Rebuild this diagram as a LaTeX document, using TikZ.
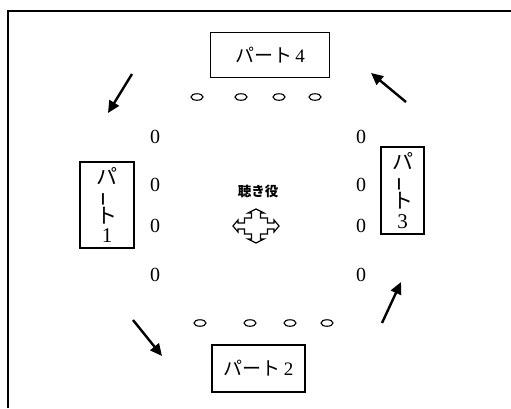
\documentclass[tikz,border=0pt]{standalone}
\usepackage{fontspec}
\setmainfont{Liberation Serif}
\newfontfamily\jp{Noto Sans CJK JP}
\usetikzlibrary{arrows.meta,shapes.geometric,calc}
\tikzset{
  partbox/.style={draw, line width=1.2pt, inner sep=0pt, font=\fontsize{19}{21}\selectfont},
  tallbox/.style={partbox, align=center, font={\fontsize{21}{19.5}\selectfont\lineskiplimit=-40pt}},
  seat/.style={draw, ellipse, line width=1.1pt, minimum width=12pt, minimum height=6.5pt, inner sep=0pt},
  zero/.style={font=\fontsize{20}{22}\selectfont, inner sep=0pt},
  turn/.style={line width=2.4pt, -{Triangle[length=12pt,width=11pt]}},
}
% long-vowel mark set upright for vertical writing
\newcommand{\vbar}{\rotatebox[origin=c]{90}{\scalebox{0.68}[1]{\jp ー}}}
\begin{document}
\begin{tikzpicture}[x=1pt, y=-1pt]
\useasboundingbox (0,0) rectangle (511,408);
% frame
\draw[line width=1.6pt] (8,408) -- (8,11) -- (511,11);

% part boxes
\node[partbox, minimum width=119pt, minimum height=45pt] (p4) at (270,55) {\jp パート\,\rmfamily 4};
\node[partbox, minimum width=93pt, minimum height=47pt] (p2) at (258.5,368.5) {\jp パート\,\rmfamily 2};
\node[tallbox, minimum width=54pt, minimum height=86pt] (p1) at (107,205)
  {\jp パ\\\vbar\\\jp ト\\\rmfamily 1};
\node[tallbox, minimum width=43pt, minimum height=87pt] (p3) at (402.5,190.5)
  {\jp パ\\\vbar\\\jp ト\\\rmfamily 3};

% seats along top and bottom
\foreach \x [count=\i] in {197,241,279,315} \node[seat] (t\i) at (\x,97) {};
\foreach \x [count=\i] in {200,250,290,327} \node[seat] (b\i) at (\x,323) {};

% seats along left and right sides
\foreach \y [count=\i] in {137,185,226,275} {
  \node[zero] (l\i) at (155,\y) {0};
  \node[zero] (r\i) at (361,\y) {0};
}

% listener in the centre
\node[font=\jp\bfseries\fontsize{13.5}{15}\selectfont, inner sep=0pt] (lis) at (258,191) {聴き役};
\coordinate (c) at (256,226);
\draw[line width=1.2pt, line join=miter]
  ($(c)+(0,-17)$) -- ++(8,4) -- ++(-3.5,0) -- ++(0,5) -- ++(7,0) -- ++(0,5) -- ++(6.5,0)
  -- ++(0,-3) -- ++(5,6) -- ++(-5,6) -- ++(0,-3) -- ++(-6.5,0) -- ++(0,5) -- ++(-7,0)
  -- ++(0,5) -- ++(3.5,0) -- ++(-8,4) -- ++(-8,-4) -- ++(3.5,0) -- ++(0,-5) -- ++(-7,0)
  -- ++(0,-5) -- ++(-6.5,0) -- ++(0,3) -- ++(-5,-6) -- ++(5,-6) -- ++(0,3) -- ++(6.5,0)
  -- ++(0,-5) -- ++(7,0) -- ++(0,-5) -- ++(-3.5,0) -- cycle;

% turn-order arrows
\coordinate (a1s) at (132,74);  \coordinate (a1e) at (108,113);
\coordinate (a2s) at (406,102); \coordinate (a2e) at (371,73);
\coordinate (a3s) at (133,320); \coordinate (a3e) at (162,356);
\coordinate (a4s) at (382,323); \coordinate (a4e) at (401,282);
\draw[turn] (a1s) -- (a1e);
\draw[turn] (a2s) -- (a2e);
\draw[turn] (a3s) -- (a3e);
\draw[turn] (a4s) -- (a4e);
\end{tikzpicture}
\end{document}
